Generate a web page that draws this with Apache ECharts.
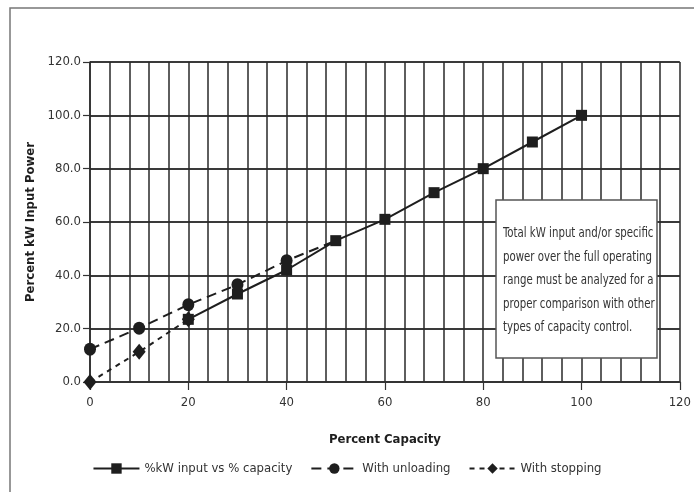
<!DOCTYPE html>
<html>
<head>
<meta charset="utf-8">
<script src="https://cdn.jsdelivr.net/npm/echarts@6/dist/echarts.min.js"></script>
<style>
  html, body { margin: 0; padding: 0; background: #fff; }
  #chart { width: 694px; height: 492px; }
</style>
</head>
<body>
<div id="chart"></div>
<script>
// Percent capacity (x) and percent kW input power (y) for each control mode
const kwCapacity = [20, 30, 40, 50, 60, 70, 80, 90, 100];
const kwInput = [23.5, 33, 42, 53, 61, 71, 80, 90, 100];

const unloadCapacity = [0, 10, 20, 30, 40, 50];
const unloadInput = [12.3, 20.2, 29, 36.5, 45.5, 53];

const stopCapacity = [0, 10, 20];
const stopInput = [0, 11.3, 23.5];

const xTicks = [0, 20, 40, 60, 80, 100, 120];
const yTicks = [0, 20, 40, 60, 80, 100, 120];

const noteLines = [
  'Total kW input and/or specific',
  'power over the full operating',
  'range must be analyzed for a',
  'proper comparison with other',
  'types of capacity control.'
];

const FONT = "'DejaVu Sans Condensed', 'Liberation Sans Narrow', 'Arial Narrow', sans-serif";
const INK = '#1e1e1e';

function pairs(xs, ys) {
  return xs.map((x, i) => [x, ys[i]]);
}

// the unloading curve joins the full-load curve at its last point, where only
// the square marker is shown
const unloadData = pairs(unloadCapacity, unloadInput).map((p, i, arr) =>
  i === arr.length - 1 ? { value: p, symbol: 'none' } : p
);

const chart = echarts.init(document.getElementById('chart'), null, { renderer: 'canvas' });

chart.setOption({
  backgroundColor: '#fff',
  animation: false,
  textStyle: { fontFamily: FONT },
  grid: { left: 90, right: 11, top: 62, bottom: 110, containLabel: false },
  xAxis: {
    type: 'value',
    min: xTicks[0],
    max: xTicks[xTicks.length - 1],
    interval: xTicks[1] - xTicks[0],
    name: 'Percent Capacity',
    nameLocation: 'middle',
    nameGap: 51,
    nameTextStyle: { fontFamily: FONT, fontWeight: 'bold', fontSize: 13, color: INK },
    axisLine: { show: true, lineStyle: { color: '#333', width: 1.5 } },
    axisTick: { show: true, length: 8, lineStyle: { color: '#333', width: 1.2 } },
    axisLabel: { margin: 14, fontFamily: FONT, fontSize: 13, color: '#333' },
    splitLine: { show: true, lineStyle: { color: '#2a2a2a', width: 1.5 } },
    minorTick: { show: false, splitNumber: 5 },
    minorSplitLine: { show: true, lineStyle: { color: '#2a2a2a', width: 1.5 } }
  },
  yAxis: {
    type: 'value',
    min: yTicks[0],
    max: yTicks[yTicks.length - 1],
    interval: yTicks[1] - yTicks[0],
    name: 'Percent kW Input Power',
    nameLocation: 'middle',
    nameGap: 48,
    nameTextStyle: { fontFamily: FONT, fontWeight: 'bold', fontSize: 13, color: INK },
    axisLine: { show: true, lineStyle: { color: '#2a2a2a', width: 1.5 } },
    axisTick: { show: true, length: 7, lineStyle: { color: '#333', width: 1.2 } },
    axisLabel: {
      margin: 9, fontFamily: FONT, fontSize: 13, color: '#333',
      formatter: v => v.toFixed(1)
    },
    splitLine: { show: true, lineStyle: { color: '#3a3a3a', width: 2 } }
  },
  legend: {
    top: 457,
    left: 'center',
    itemWidth: 46,
    itemHeight: 13,
    itemGap: 18,
    textStyle: { fontFamily: FONT, fontSize: 13, color: '#333' },
    data: ['%kW input vs % capacity', 'With unloading', 'With stopping']
  },
  series: [
    {
      name: 'With unloading',
      type: 'line',
      data: unloadData,
      symbol: 'circle',
      symbolSize: [12, 13],
      itemStyle: { color: INK },
      lineStyle: { color: INK, width: 2, type: [10, 6] },
      z: 3
    },
    {
      name: 'With stopping',
      type: 'line',
      data: pairs(stopCapacity, stopInput),
      symbol: 'diamond',
      symbolSize: [13, 16],
      itemStyle: { color: INK },
      lineStyle: { color: INK, width: 2, type: [5, 5] },
      z: 3
    },
    {
      name: '%kW input vs % capacity',
      type: 'line',
      data: pairs(kwCapacity, kwInput),
      symbol: 'rect',
      symbolSize: 11,
      itemStyle: { color: INK },
      lineStyle: { color: INK, width: 2 },
      z: 4
    }
  ],
  graphic: [
    // outer frame (top and left edges)
    {
      type: 'polyline',
      z: 100,
      shape: { points: [[10, 492], [10, 8], [694, 8]] },
      style: { stroke: '#777', lineWidth: 1.5, fill: null }
    },
    // explanatory note box
    {
      type: 'rect',
      z: 100,
      shape: { x: 496, y: 200, width: 161, height: 158 },
      style: { fill: '#fff', stroke: '#555', lineWidth: 1.5 }
    },
    {
      type: 'text',
      z: 101,
      x: 503,
      y: 222,
      scaleX: 0.84,
      style: {
        text: noteLines.join('\n'),
        font: '13.5px ' + FONT,
        lineHeight: 23.5,
        fill: '#333'
      }
    }
  ]
});
</script>
</body>
</html>
